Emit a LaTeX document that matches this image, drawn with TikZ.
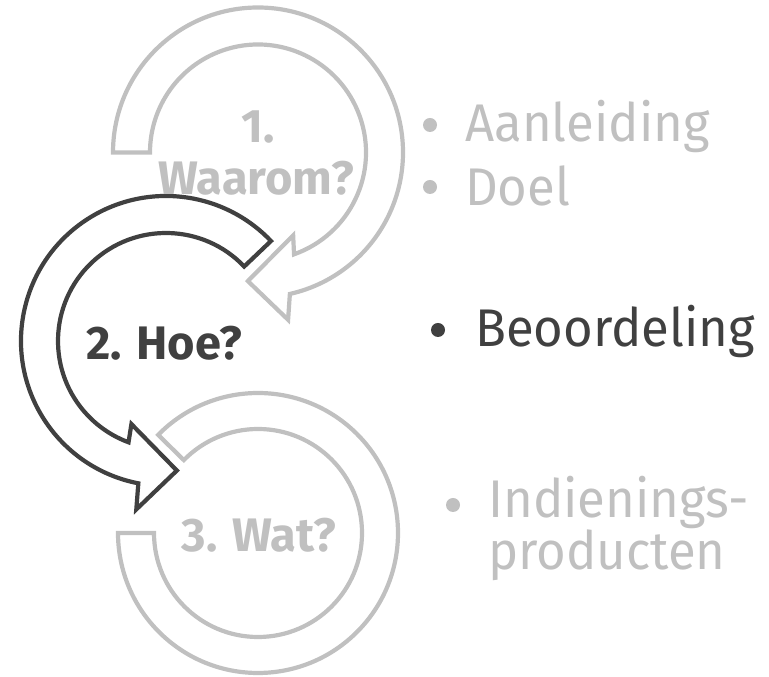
\documentclass[tikz,border=0pt]{standalone}
\usepackage{fontspec}
\setmainfont{Fira Sans}
\newfontfamily\itemfont{Fira Sans}[FakeStretch=0.96]
\definecolor{lightg}{HTML}{C0C0C0}
\definecolor{darkg}{HTML}{404040}
\begin{document}
\begin{tikzpicture}[x=1pt,y=1pt,
  arrowshape/.style={line width=4.2pt,line join=miter,fill=white},
  label/.style={font=\fontsize{47}{52}\selectfont\bfseries,inner sep=0pt,anchor=base},
  item/.style={font=\itemfont\fontsize{53}{60}\selectfont,inner sep=0pt,anchor=base west},
  bul/.style={circle,inner sep=0pt,minimum size=14pt}]
\useasboundingbox (0,0) rectangle (769,677);
% arrow 1 (top, grey)
\begin{scope}[shift={(258pt,524.5pt)}]
  \draw[arrowshape,draw=lightg] (180:145pt) arc[start angle=180,end angle=-77.3,radius=145pt]
    -- (-79.8:170pt) -- (-94.5:129pt) -- (-67:90pt) -- (-70.5:108pt)
    arc[start angle=-70.5,end angle=180,radius=108pt] -- cycle;
\end{scope}
% arrow 3 (bottom, grey)
\begin{scope}[shift={(258pt,144pt)}]
  \draw[arrowshape,draw=lightg] (135.5:140pt) arc[start angle=135.5,end angle=-180,radius=140pt]
    -- (180:104pt) arc[start angle=-180,end angle=135.5,radius=104pt] -- cycle;
\end{scope}
% arrow 2 (middle, dark)
\begin{scope}[shift={(166pt,336pt)}]
  \draw[arrowshape,draw=darkg] (43.6:108pt) arc[start angle=43.6,end angle=249.7,radius=108pt]
    -- (-112.6:90pt) -- (-85.2:130pt) -- (-100:171pt) -- (-101:145pt)
    arc[start angle=259,end angle=43.6,radius=145pt] -- cycle;
\end{scope}
% labels
\node[label,text=lightg] (l1a) at (258,534) {1.};
\node[label,text=lightg] (l1b) at (256,482) {Waarom?};
\node[label,text=darkg] (l2) at (164,317) {2. Hoe?};
\node[label,text=lightg] (l3) at (259,125) {3. Wat?};
% bullet texts
\node[bul,fill=lightg] (b1) at (430,552) {};
\node[item,text=lightg] (t1) at (465,535) {Aanleiding};
\node[bul,fill=lightg] (b2) at (430,490) {};
\node[item,text=lightg] (t2) at (465,471) {Doel};
\node[bul,fill=darkg] (b3) at (438,347) {};
\node[item,text=darkg] (t3) at (475,330) {Beoordeling};
\node[bul,fill=lightg] (b4) at (453,172) {};
\node[item,text=lightg] (t4) at (488,159) {Indienings-};
\node[item,text=lightg] (t5) at (488,107) {producten};
\end{tikzpicture}
\end{document}
